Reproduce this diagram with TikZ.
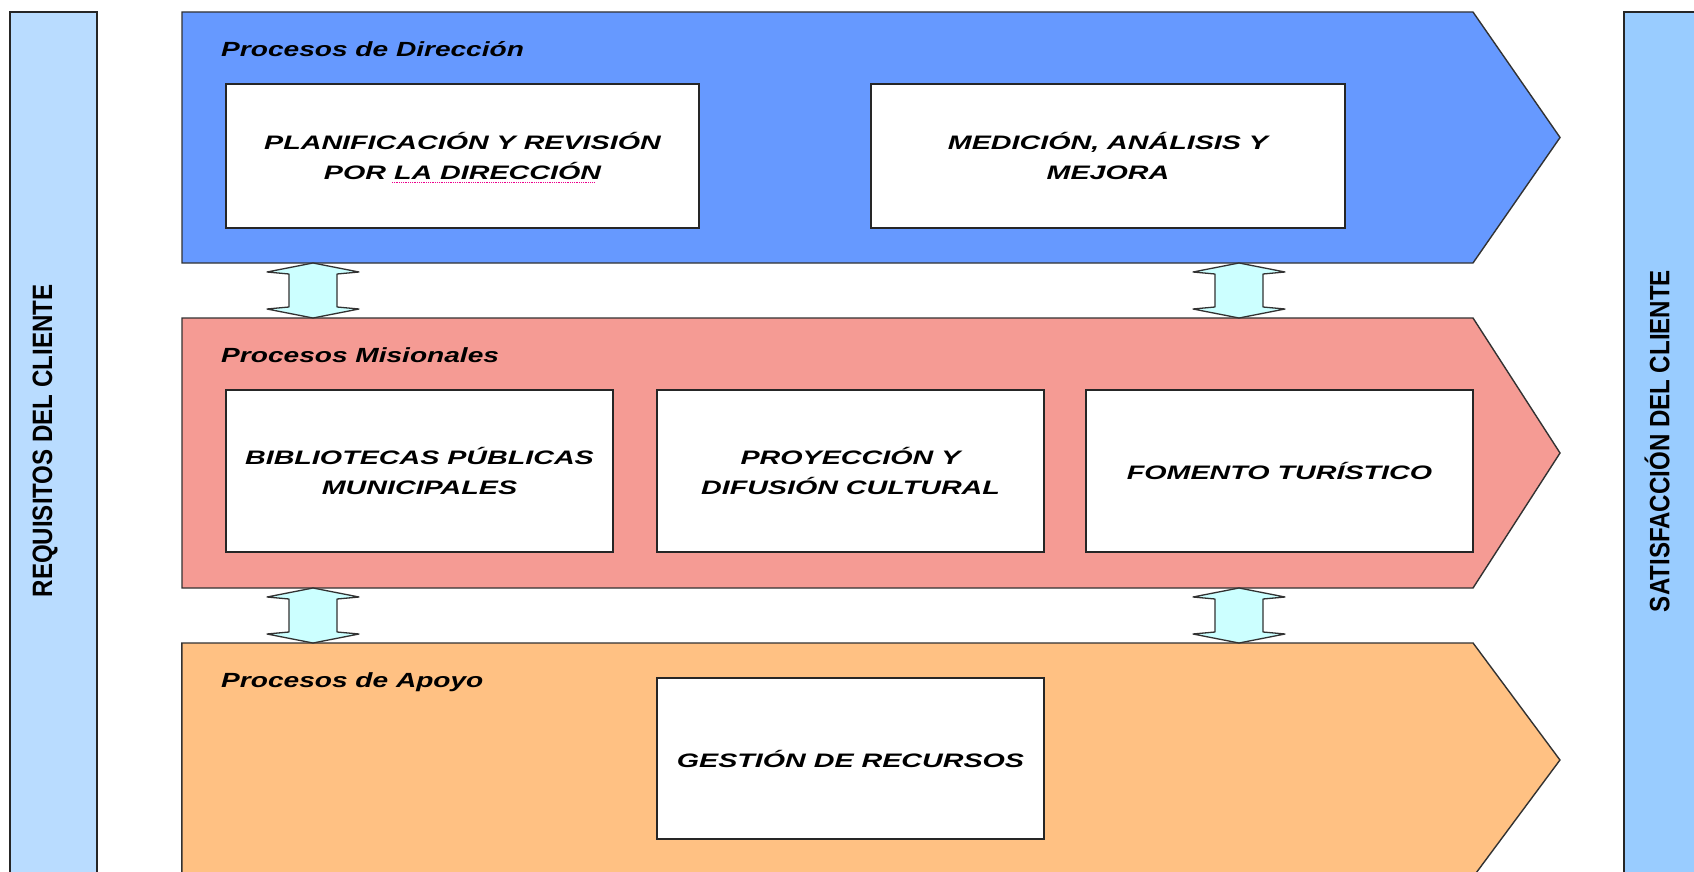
\documentclass[tikz,border=0pt]{standalone}
\usepackage{fontspec}
\usetikzlibrary{shapes.symbols,calc}

% Wide bold-italic face for the process boxes and band titles,
% condensed bold face for the side bars
\newfontfamily\boxfont[FakeStretch=1.47]{Liberation Sans}
\newfontfamily\titlefont[FakeStretch=1.37]{Liberation Sans}
\newfontfamily\sidefont[FakeStretch=0.86]{Liberation Sans}

\definecolor{dirblue}{RGB}{102,153,255}
\definecolor{mispink}{RGB}{245,155,148}
\definecolor{apoorange}{RGB}{255,193,131}
\definecolor{reqblue}{RGB}{185,220,255}
\definecolor{satblue}{RGB}{153,204,255}
\definecolor{linkcyan}{RGB}{204,255,255}
\definecolor{edge}{RGB}{50,50,50}

% vertical two-headed arrow between two points (#1 above #2)
\newcommand\udlink[2]{%
  \draw[linkarrow] let \p1=(#1), \p2=(#2) in
    (\x1,\y1) -- (\x1+46pt,\y1-9pt) -- (\x1+24pt,\y1-11pt)
    -- (\x1+24pt,\y2+11pt) -- (\x1+46pt,\y2+9pt) -- (\x1,\y2)
    -- (\x1-46pt,\y2+9pt) -- (\x1-24pt,\y2+11pt)
    -- (\x1-24pt,\y1-11pt) -- (\x1-46pt,\y1-9pt) -- cycle;}

\begin{document}
\begin{tikzpicture}[x=1pt,y=-1pt,
  band/.style={shape=signal, signal to=east, draw=edge, line width=1.4pt,
    inner sep=0pt, outer sep=0pt, minimum width=1378pt},
  procbox/.style={draw=black!85, line width=1.4pt, fill=white, inner sep=0pt,
    outer sep=0pt, align=center,
    font=\boxfont\bfseries\itshape\fontsize{19.5}{30}\selectfont},
  bandtitle/.style={anchor=base west, inner sep=0pt,
    font=\titlefont\bfseries\itshape\fontsize{20.5}{24}\selectfont},
  sidebar/.style={draw=black!85, line width=1.6pt, anchor=north west,
    inner sep=0pt, outer sep=0pt},
  sidetext/.style={rotate=90, inner sep=0pt,
    font=\sidefont\bfseries\fontsize{28}{32}\selectfont},
  linkarrow/.style={draw=edge, line width=1.3pt, fill=linkcyan, line join=round}]

\useasboundingbox (0,0) rectangle (1694,872);
\fill[white] (0,0) rectangle (1694,872);

% side bars
\node[sidebar, fill=reqblue, minimum width=87pt, minimum height=900pt] (req) at (10,12) {};
\node[sidetext] (reqtxt) at (45,441) {REQUISITOS DEL CLIENTE};
\node[sidebar, fill=satblue, minimum width=120pt, minimum height=900pt] (sat) at (1624,12) {};
\node[sidetext] (sattxt) at (1657,441) {SATISFACCIÓN DEL CLIENTE};

% process bands (centre = centre of the rectangular body)
\node[band, fill=dirblue, minimum height=251pt, signal pointer angle=110.5] (dir) at (827.5,137.5) {};
\node[band, fill=mispink, minimum height=270pt, signal pointer angle=114.4] (mis) at (827.5,453) {};
\node[band, fill=apoorange, minimum height=234pt, signal pointer angle=106.8] (apo) at (827.5,760) {};

\node[bandtitle] (dirtitle) at (221,57) {Procesos de Dirección};
\node[bandtitle] (mistitle) at (221,362) {Procesos Misionales};
\node[bandtitle] (apotitle) at (221,687) {Procesos de Apoyo};

% process boxes
\node[procbox, minimum width=473pt, minimum height=144pt] (plan) at (462.5,156)
  {PLANIFICACIÓN Y REVISIÓN\\POR LA DIRECCIÓN};
\node[procbox, minimum width=474pt, minimum height=144pt] (med) at (1108,156)
  {MEDICIÓN, ANÁLISIS Y\\MEJORA};
\node[procbox, minimum width=387pt, minimum height=162pt] (bib) at (419.5,471)
  {BIBLIOTECAS PÚBLICAS\\MUNICIPALES};
\node[procbox, minimum width=387pt, minimum height=162pt] (proy) at (850.5,471)
  {PROYECCIÓN Y\\DIFUSIÓN CULTURAL};
\node[procbox, minimum width=387pt, minimum height=162pt] (fom) at (1279.5,471)
  {FOMENTO TURÍSTICO};
\node[procbox, minimum width=387pt, minimum height=161pt] (ges) at (850.5,758.5)
  {GESTIÓN DE RECURSOS};

% spelling mark under the second line of the planning box
\draw[magenta, densely dotted, line width=0.8pt] (392,182) -- (595,182);

% links between the bands
\coordinate (l1t) at (313,0 |- dir.south);
\coordinate (l1b) at (313,0 |- mis.north);
\coordinate (r1t) at (1239,0 |- dir.south);
\coordinate (r1b) at (1239,0 |- mis.north);
\coordinate (l2t) at (313,0 |- mis.south);
\coordinate (l2b) at (313,0 |- apo.north);
\coordinate (r2t) at (1239,0 |- mis.south);
\coordinate (r2b) at (1239,0 |- apo.north);
\udlink{l1t}{l1b}
\udlink{r1t}{r1b}
\udlink{l2t}{l2b}
\udlink{r2t}{r2b}
\end{tikzpicture}
\end{document}
